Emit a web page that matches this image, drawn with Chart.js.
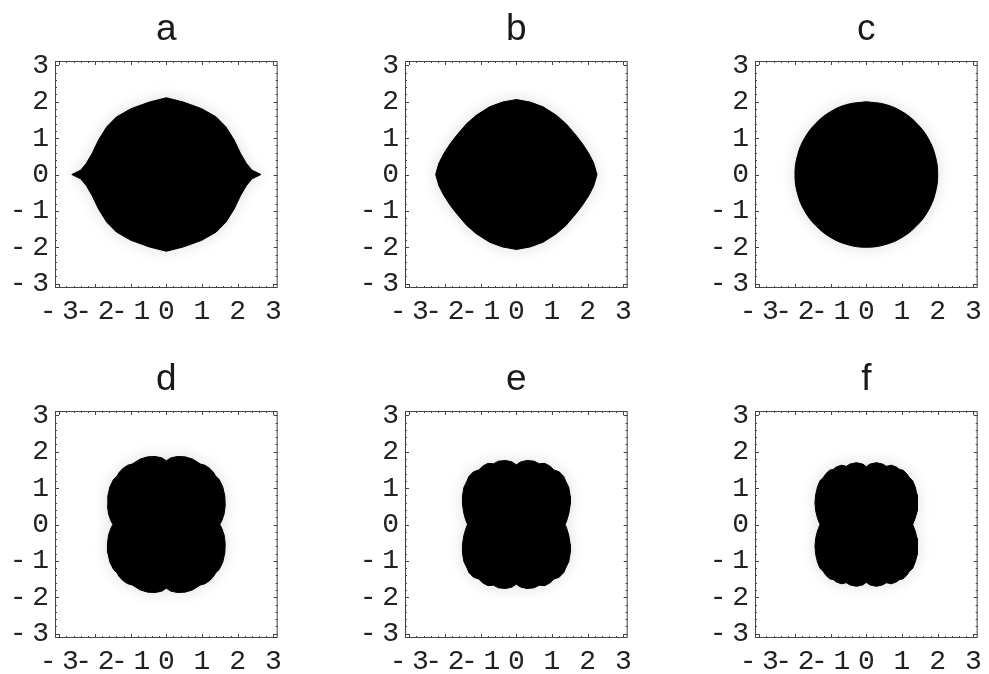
<!DOCTYPE html>
<html>
<head>
<meta charset="utf-8">
<script src="https://cdn.jsdelivr.net/npm/chart.js@4.4.1/dist/chart.umd.min.js"></script>
<style>
  body { margin: 0; background: #fff; }
  .panel { position: absolute; width: 289px; height: 330px; }
</style>
</head>
<body>
<div class="panel" style="left:0px;top:0px"><canvas id="pa"></canvas></div>
<div class="panel" style="left:350px;top:0px"><canvas id="pb"></canvas></div>
<div class="panel" style="left:700px;top:0px"><canvas id="pc"></canvas></div>
<div class="panel" style="left:0px;top:350px"><canvas id="pd"></canvas></div>
<div class="panel" style="left:350px;top:350px"><canvas id="pe"></canvas></div>
<div class="panel" style="left:700px;top:350px"><canvas id="pf"></canvas></div>
<script>
// Panel labels and axis ticks
const PANEL_TITLES = ["a", "b", "c", "d", "e", "f"];
const TICK_VALUES = [-3, -2, -1, 0, 1, 2, 3];
const AXIS_MIN = -3.12;
const AXIS_MAX = 3.12;

// Boundary of each shape, upper-right quarter
// (goes from the top point on x = 0 down to the right point on y = 0)
const quadA = [[0, 2.11], [0.48, 1.99], [0.99, 1.81], [1.40, 1.58], [1.67, 1.31],
    [1.90, 0.95], [2.08, 0.58], [2.24, 0.31], [2.40, 0.12], [2.65, 0]];
const quadB = [[0, 2.06], [0.39, 1.99], [0.75, 1.86], [1.12, 1.63], [1.39, 1.40],
    [1.67, 1.08], [1.85, 0.85], [2.03, 0.58], [2.17, 0.31], [2.26, 0]];
const quadC = [[0, 2.0], [0.52, 1.93], [1.0, 1.73], [1.41, 1.41], [1.73, 1.0],
    [1.93, 0.52], [2.0, 0]];
const quadD = [[0, 1.75], [0.12, 1.83], [0.31, 1.87], [0.52, 1.86], [0.73, 1.80],
    [0.88, 1.71], [0.96, 1.66], [1.08, 1.63], [1.22, 1.54], [1.33, 1.42], [1.38, 1.33],
    [1.48, 1.24], [1.58, 1.04], [1.64, 0.78], [1.65, 0.52], [1.62, 0.29], [1.56, 0.12], [1.50, 0]];
const quadE = [[0, 1.64], [0.12, 1.72], [0.30, 1.76], [0.50, 1.74], [0.64, 1.67],
    [0.80, 1.68], [0.95, 1.60], [1.05, 1.50], [1.20, 1.45], [1.33, 1.32], [1.38, 1.20],
    [1.47, 1.02], [1.51, 0.78], [1.51, 0.55], [1.47, 0.30], [1.42, 0.13], [1.37, 0]];
const quadF = [[0, 1.59], [0.10, 1.66], [0.28, 1.70], [0.46, 1.66], [0.56, 1.60],
    [0.70, 1.63], [0.84, 1.58], [0.92, 1.52], [1.03, 1.49], [1.13, 1.40], [1.20, 1.30],
    [1.30, 1.20], [1.37, 1.03], [1.42, 0.82], [1.44, 0.60], [1.42, 0.38], [1.37, 0.18], [1.30, 0]];

// The shapes are symmetric about both axes: mirror the quarter into a closed outline
function ring(q) {
    const pts = [];
    q.forEach(([x, y]) => pts.push({ x: x, y: y }));
    q.slice(0, -1).reverse().forEach(([x, y]) => pts.push({ x: x, y: -y }));
    q.slice(1).forEach(([x, y]) => pts.push({ x: -x, y: -y }));
    q.slice(0, -1).reverse().forEach(([x, y]) => pts.push({ x: -x, y: y }));
    return pts;
}

// Mathematica style minus, a little gap before the digit
const fmtTick = v => v < 0 ? "-\u2009" + Math.abs(v) : String(v);

// Soft grey halo round the black shape
const haloPlugin = {
    id: "halo",
    beforeDatasetsDraw(chart) {
        const ctx = chart.ctx;
        ctx.save();
        ctx.shadowColor = "rgba(0,0,0,0.14)";
        ctx.shadowBlur = 16;
    },
    afterDatasetsDraw(chart) {
        chart.ctx.restore();
    }
};

// Frame with small inward ticks on all four sides
const framePlugin = {
    id: "frame",
    afterDraw(chart) {
        const { ctx, chartArea: a, scales } = chart;
        ctx.save();
        ctx.strokeStyle = "#444";
        ctx.lineWidth = 1;
        ctx.strokeRect(a.left + 0.5, a.top + 0.5, a.right - a.left - 1, a.bottom - a.top - 1);
        ctx.beginPath();
        for (let i = -15; i <= 15; i++) {
            const v = i / 5;
            const len = (i % 5 === 0) ? 4 : 2;
            const px = Math.round(scales.x.getPixelForValue(v)) + 0.5;
            const py = Math.round(scales.y.getPixelForValue(v)) + 0.5;
            ctx.moveTo(px, a.bottom); ctx.lineTo(px, a.bottom - len);
            ctx.moveTo(px, a.top); ctx.lineTo(px, a.top + len);
            ctx.moveTo(a.left, py); ctx.lineTo(a.left + len, py);
            ctx.moveTo(a.right, py); ctx.lineTo(a.right - len, py);
        }
        ctx.stroke();
        ctx.restore();
    }
};

function axis(isX) {
    return {
        type: "linear",
        min: AXIS_MIN,
        max: AXIS_MAX,
        afterBuildTicks: s => { s.ticks = TICK_VALUES.map(v => ({ value: v })); },
        afterFit: s => { if (isX) s.height = 42; else s.width = 55; },
        grid: { display: false, drawTicks: false },
        border: { display: false },
        ticks: {
            autoSkip: false,
            maxRotation: 0,
            minRotation: 0,
            padding: isX ? 7 : 6,
            color: "#222",
            font: { family: "'Liberation Mono', monospace", size: 28 },
            callback: fmtTick
        }
    };
}

function makePanel(id, title, quad, tension) {
    new Chart(document.getElementById(id), {
        type: "scatter",
        data: {
            datasets: [{
                data: ring(quad),
                showLine: true,
                fill: "shape",
                backgroundColor: "#000",
                borderColor: "#000",
                borderWidth: 1,
                pointRadius: 0,
                tension: tension
            }]
        },
        options: {
            responsive: true,
            maintainAspectRatio: false,
            animation: false,
            events: [],
            layout: { padding: { left: 0, right: 6, top: 0, bottom: 0 } },
            plugins: {
                legend: { display: false },
                tooltip: { enabled: false },
                title: {
                    display: true,
                    text: title,
                    fullSize: false,
                    color: "#1a1a1a",
                    font: { family: "'Liberation Sans', Arial, sans-serif", size: 37, weight: "normal", lineHeight: 1 },
                    padding: { top: 11, bottom: 13 }
                }
            },
            scales: { x: axis(true), y: axis(false) }
        },
        plugins: [haloPlugin, framePlugin]
    });
}

makePanel("pa", PANEL_TITLES[0], quadA, 0);
makePanel("pb", PANEL_TITLES[1], quadB, 0);
makePanel("pc", PANEL_TITLES[2], quadC, 0.4);
makePanel("pd", PANEL_TITLES[3], quadD, 0);
makePanel("pe", PANEL_TITLES[4], quadE, 0);
makePanel("pf", PANEL_TITLES[5], quadF, 0);
</script>
</body>
</html>
